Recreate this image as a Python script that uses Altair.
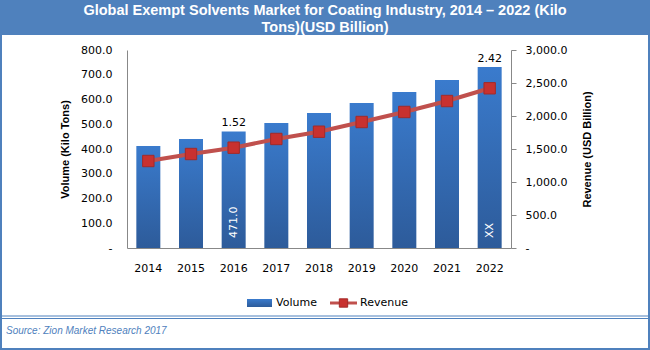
import altair as alt
import pandas as pd

years = ["2014", "2015", "2016", "2017", "2018", "2019", "2020", "2021", "2022"]
volume = [412, 440, 471, 505, 545, 586, 630, 679, 731]
revenue = [1318, 1424, 1520, 1652, 1762, 1909, 2061, 2227, 2420]
revenue_labels = ["", "", "1.52", "", "", "", "", "", "2.42"]
volume_labels = ["", "", "471.0", "", "", "", "", "", "XX"]
title_lines = ["Global Exempt Solvents Market for Coating Industry, 2014 \u2013 2022 (Kilo",
               "Tons)(USD Billion)"]
legend_labels = ["Volume", "Revenue"]
source_text = "Source: Zion Market Research 2017"

df = pd.DataFrame({"year": years, "volume": volume, "revenue": revenue,
                   "rlab": revenue_labels, "vlab": volume_labels})
one = pd.DataFrame({"k": [0]})

W, H = 384, 198
BLUE = "#4F81BD"
BAR_GRAD = alt.Gradient(gradient="linear",
                        stops=[alt.GradientStop(color="#3A7BCD", offset=0),
                               alt.GradientStop(color="#2D5B9A", offset=1)],
                        x1=0, x2=0, y1=0, y2=1)
LINE_RED = "#C0504D"
SQ_RED = "#C8312F"

x = alt.X("year:N", sort=years,
          scale=alt.Scale(paddingInner=0, paddingOuter=0),
          axis=alt.Axis(title=None, labelAngle=0, ticks=False, domainColor="#888888",
                        labelPadding=14, labelFont="DejaVu Sans", labelFontSize=11,
                        labelColor="#000000"))

lab_expr = "datum.value == 0 ? '-' : format(datum.value, ',.1f')"

yl = alt.Y("volume:Q", scale=alt.Scale(domain=[0, 800], nice=False),
           axis=alt.Axis(values=list(range(0, 801, 100)), labelExpr=lab_expr,
                         labelOverlap=False,
                         title="Volume (Kilo Tons)", grid=False, ticks=False,
                         domainColor="#888888", labelPadding=15,
                         labelFont="DejaVu Sans", labelFontSize=11, labelColor="#000000",
                         titleFont="Liberation Sans", titleFontSize=11,
                         titleFontWeight="bold", titleColor="#000000", titlePadding=10))

bars = alt.Chart(df).mark_bar(size=24, color=BAR_GRAD).encode(x=x, y=yl)

rtext = alt.Chart(df).mark_text(baseline="bottom", dy=-3, font="DejaVu Sans",
                                fontSize=11, color="#000000").encode(
    x=x, y=yl, text="rlab:N")

vtext = alt.Chart(df).mark_text(angle=270, align="left", baseline="middle",
                                font="DejaVu Sans", fontSize=11, color="#FFFFFF").encode(
    x=x, y=alt.value(H - 10), text="vlab:N")

deco = []
deco.append(alt.Chart(one).mark_rect(color=BLUE).encode(
    x=alt.value(-127), x2=alt.value(523), y=alt.value(-50), y2=alt.value(-15)))
for i, line in enumerate(title_lines):
    deco.append(alt.Chart(one).mark_text(font="Liberation Sans", fontSize=14.5,
                                         fontWeight="bold",
                                         color="#FFFFFF", align="center",
                                         baseline="middle").encode(
        x=alt.value(198), y=alt.value(-39 + 17 * i), text=alt.value(line)))
deco.append(alt.Chart(one).mark_rect(fillOpacity=0, stroke=BLUE, strokeWidth=2).encode(
    x=alt.value(-126), x2=alt.value(522), y=alt.value(-49), y2=alt.value(299)))
for yy in (266, 268.5):
    deco.append(alt.Chart(one).mark_rule(color=BLUE, strokeWidth=1).encode(
        x=alt.value(-127), x2=alt.value(523), y=alt.value(yy)))
deco.append(alt.Chart(one).mark_text(font="Liberation Sans", fontSize=10, fontStyle="italic",
                                     color=BLUE, align="left", baseline="middle").encode(
    x=alt.value(-121), y=alt.value(281), text=alt.value(source_text)))
# legend
deco.append(alt.Chart(one).mark_rect(color=BAR_GRAD).encode(
    x=alt.value(120), x2=alt.value(145), y=alt.value(249), y2=alt.value(257)))
deco.append(alt.Chart(one).mark_text(font="DejaVu Sans", fontSize=11, color="#000000",
                                     align="left", baseline="middle").encode(
    x=alt.value(149), y=alt.value(253), text=alt.value(legend_labels[0])))
deco.append(alt.Chart(one).mark_rule(color=LINE_RED, strokeWidth=3).encode(
    x=alt.value(203), x2=alt.value(230), y=alt.value(253)))
deco.append(alt.Chart(one).mark_square(size=70, color=SQ_RED, stroke="#A32A28",
                                       strokeWidth=1, opacity=1).encode(
    x=alt.value(216.5), y=alt.value(253)))
deco.append(alt.Chart(one).mark_text(font="DejaVu Sans", fontSize=11, color="#000000",
                                     align="left", baseline="middle").encode(
    x=alt.value(233), y=alt.value(253), text=alt.value(legend_labels[1])))

left = alt.layer(bars, rtext, vtext, *deco)

yr = alt.Y("revenue:Q", scale=alt.Scale(domain=[0, 3000], nice=False),
           axis=alt.Axis(orient="right", values=list(range(0, 3001, 500)),
                         labelExpr=lab_expr, labelOverlap=False,
                         title="Revenue (USD Billion)", grid=False,
                         ticks=True, tickSize=5, tickColor="#888888",
                         domainColor="#888888", labelPadding=9,
                         labelFont="DejaVu Sans", labelFontSize=11, labelColor="#000000",
                         titleFont="Liberation Sans", titleFontSize=11,
                         titleFontWeight="bold", titleColor="#000000",
                         titleAngle=270, titleBaseline="top", titlePadding=15))

line = alt.Chart(df).mark_line(color=LINE_RED, strokeWidth=4).encode(x=x, y=yr)
pts = alt.Chart(df).mark_square(size=130, color=SQ_RED, stroke="#A32A28",
                                strokeWidth=1, opacity=1).encode(x=x, y=yr)
right = alt.layer(line, pts)

chart = alt.layer(left, right).resolve_scale(y="independent").properties(
    width=W, height=H, autosize="none",
    padding={"left": 127, "top": 50, "right": 139, "bottom": 102},
    background="#FFFFFF",
).configure_view(strokeWidth=0)

chart.save("out.html", embed_options={"renderer": "svg", "actions": False})
